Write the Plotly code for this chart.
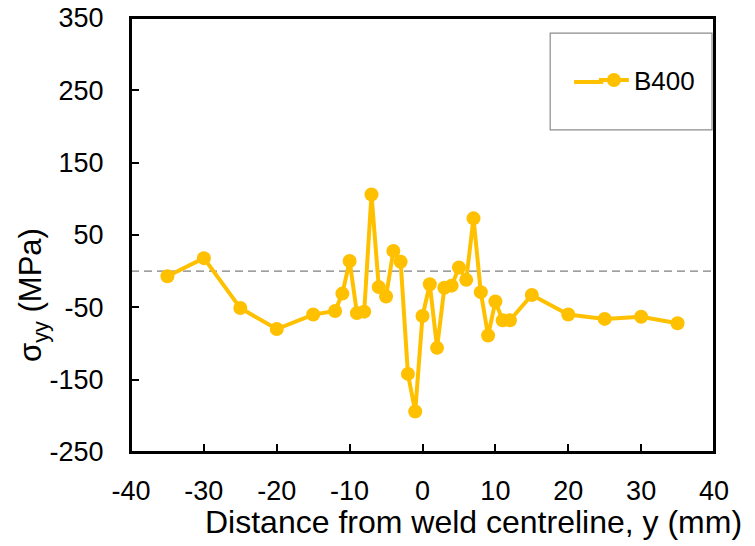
import plotly.graph_objects as go

# distance from weld centreline (mm) and sigma_yy (MPa)
dist = [-35, -30, -25, -20, -15, -12, -11, -10, -9, -8, -7, -6, -5, -4, -3, -2, -1,
        0, 1, 2, 3, 4, 5, 6, 7, 8, 9, 10, 11, 12, 15, 20, 25, 30, 35]
sigma_yy = [-7, 18, -51, -80, -60, -55, -31, 14, -58, -56, 106, -22, -35, 28, 13, -142, -194,
            -62, -18, -106, -23, -20, 5, -12, 73, -29, -89, -42, -68, -68, -33, -60, -66, -63, -72]
series_name = 'B400'

x_ticks = list(range(-40, 41, 10))
y_ticks = list(range(-250, 351, 100))

gold = '#FFC000'
fnt = 'Liberation Sans, Arial, sans-serif'

fig = go.Figure()
fig.add_trace(go.Scatter(x=dist, y=sigma_yy, mode='lines+markers', name=series_name,
                         line=dict(color=gold, width=4),
                         marker=dict(color=gold, size=14)))

# zero reference line
fig.add_shape(type='line', xref='paper', x0=0, x1=1, yref='y', y0=0, y1=0,
              line=dict(color='#7f7f7f', width=1.4, dash='8px,5px'), layer='below')
# legend frame, plus a longer sample line like Excel draws
fig.add_shape(type='rect', xref='paper', yref='paper', x0=0.719, x1=0.9966, y0=0.742, y1=0.965,
              line=dict(color='#8c8c8c', width=1.2), fillcolor='white', layer='below')
fig.add_shape(type='line', xref='paper', yref='paper', x0=0.760, x1=0.81, y0=0.8525, y1=0.8525,
              line=dict(color=gold, width=4), layer='below')
# plot frame
fig.add_shape(type='rect', xref='paper', yref='paper', x0=0, x1=1, y0=0, y1=1,
              line=dict(color='black', width=2), layer='above')

axis_common = dict(showline=True, linecolor='black', linewidth=2, mirror=True,
                   ticks='inside', ticklen=8, tickwidth=1.5, tickcolor='black',
                   showgrid=False, zeroline=False, automargin=False,
                   ticklabeloverflow='allow',
                   tickfont=dict(family=fnt, size=27, color='black'))

fig.update_xaxes(range=[-40, 40], tickvals=x_ticks, ticktext=[str(v) for v in x_ticks],
                 ticklabelstandoff=14, **axis_common)
fig.update_yaxes(range=[-250, 350], tickvals=y_ticks, ticktext=[str(v) for v in y_ticks],
                 ticklabelstandoff=20, **axis_common)

fig.add_annotation(text='Distance from weld centreline, y (mm)', xref='paper', yref='paper',
                   x=0.587, y=-0.161, xanchor='center', yanchor='middle',
                   showarrow=False, font=dict(family=fnt, size=32, color='black'))
fig.add_annotation(text='σ<sub>yy</sub> (MPa)', xref='paper', yref='paper',
                   x=-0.168, y=0.362, xanchor='center', yanchor='middle', textangle=-90,
                   showarrow=False, font=dict(family=fnt, size=31, color='black'))

fig.update_layout(
    width=755, height=546,
    margin=dict(l=123, r=49, t=10, b=102, autoexpand=False),
    plot_bgcolor='white', paper_bgcolor='white',
    showlegend=True,
    legend=dict(x=0.794, y=0.857, xanchor='left', yanchor='middle',
                borderwidth=0, bgcolor='rgba(0,0,0,0)',
                font=dict(family=fnt, size=26, color='black')),
)

fig.write_html('out.html')
